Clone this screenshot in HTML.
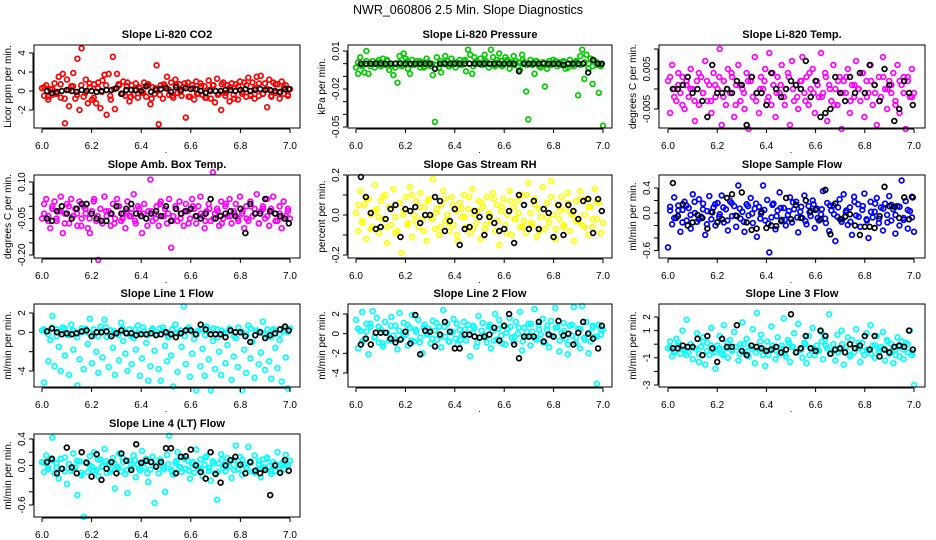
<!DOCTYPE html>
<html><head><meta charset="utf-8"><style>
html,body{margin:0;padding:0;background:#fff;}
svg{display:block;font-family:"Liberation Sans",Arial,sans-serif;}
</style></head><body>
<svg id="chart" width="936" height="540" viewBox="0 0 936 540" xmlns="http://www.w3.org/2000/svg">
<rect width="936" height="540" fill="#fff"/>
<text x="468" y="14" text-anchor="middle" font-size="12.5">NWR_060806  2.5 Min. Slope Diagnostics</text>
</svg>
<script>
const blackT=[6.02,6.04,6.06,6.08,6.10,6.12,6.14,6.16,6.18,6.20,6.22,6.24,6.26,6.28,6.30,6.32,6.34,6.36,6.38,6.40,6.42,6.44,6.46,6.48,6.50,6.52,6.54,6.56,6.58,6.60,6.62,6.64,6.66,6.68,6.70,6.72,6.74,6.76,6.78,6.80,6.82,6.84,6.86,6.88,6.90,6.92,6.94,6.96,6.98,6.995];
const xTicks=[6.0,6.2,6.4,6.6,6.8,7.0];
const xTickLabels=["6.0","6.2","6.4","6.6","6.8","7.0"];
const nPts=120;
const nBand=60;
const co2=[0.3,-0.5,0.6,-0.9,0.2,-0.4,0.8,-0.2,1.5,-0.7,1.8,-3.4,1.2,-1.6,0.5,1.9,-0.8,3.4,-2.0,4.5,-0.6,1.2,-1.3,0.4,-0.9,0.7,-1.3,0.9,-1.8,1.1,1.7,-2.5,1.8,-0.9,3.6,-1.9,1.8,0.6,-0.3,1.0,-0.5,0.9,-1.1,0.6,-0.4,0.8,-0.7,0.3,-0.2,0.9,-0.6,0.7,-1.4,0.4,-0.3,2.7,-3.5,0.6,-0.8,0.5,1.5,-0.4,0.9,-0.7,1.2,-0.2,0.7,-0.5,0.4,-2.8,0.9,-0.6,0.6,-0.9,1.0,-0.3,0.8,-0.4,0.5,-0.7,1.1,-0.8,0.6,-1.2,1.3,-0.3,-2.0,0.9,-0.5,0.6,-1.1,0.8,-0.4,0.7,-0.9,1.0,-0.3,0.9,-0.6,1.4,-0.4,0.9,-0.8,1.5,-0.5,1.6,-0.3,0.8,-1.7,1.2,-0.5,0.9,-0.2,0.7,-0.8,1.0,-0.3,0.6,-0.4,0.2];
const co2Band=[0.4,-0.6,0.2,-0.3,0.7,-0.8,0.1,0.5,-0.4,0.6,-0.2,0.8,-0.7,0.3,-0.1,0.6,-0.5,0.2,0.7,-0.3,0.5,-0.6,0.1,0.4,-0.2,0.6,-0.8,0.3,-0.4,0.7,0.2,-0.5,0.6,-0.1,0.8,-0.6,0.3,-0.3,0.5,-0.7,0.1,0.6,-0.4,0.7,-0.2,0.4,-0.8,0.5,-0.1,0.6,-0.5,0.3,0.8,-0.3,0.2,-0.6,0.7,-0.2,0.4,-0.5];
const co2Black=[0,-0.2,-0.1,0,0.1,0,-0.1,0.1,0,0,-0.1,0,0.1,0.1,0.3,-0.3,0.1,0.1,0.1,0,0.5,-0.1,0.1,0.2,0.3,-0.1,0.4,0.1,0.3,0.2,0.2,0,-0.2,0,0,0,0.1,0.1,0,0.1,0.2,0,0.1,0.2,0.1,0.1,0,-0.1,0.2,0.2];
const pres=[-3,-8,5,-2,-7,10,-8,0,2,-3,1,3,-2,4,-1,2,-5,0,-9,-3,-15,6,-2,8,4,-4,-8,3,-1,2,0,-3,1,-2,4,-1,-2,-9,-46,5,-3,-7,0,6,2,-2,4,1,-3,0,3,-1,2,-6,11,7,-8,5,2,0,4,-1,7,1,-3,11,5,-2,3,8,2,-1,5,3,-4,1,6,2,-2,-5,7,1,-22,-44,3,-1,-8,2,0,-3,1,-18,-4,2,-1,3,0,-2,1,-1,2,-4,0,3,-1,-2,1,-25,6,11,-12,7,-4,4,-16,2,-1,-23,-2,-49];
const presBand=[1,-1,2,-2,0,1,-1,3,-2,0,1,-1,2,-1,0,2,-3,1,0,-1,2,1,-2,0,1,-1,3,0,-2,1,-1,2,0,-1,1,-2,2,0,-1,1,3,-1,0,2,-2,1,-1,0,2,-1,1,-3,0,2,-1,1,0,-2,1,-1];
const presBlack=[0,0,0,0,0,0,0,0,0,0,0,0,0,0,0,-4,0,0,0,0,0,0,0,0,0,0,0,0,0,0,0,0,-6,0,0,0,0,0,0,0,0,-1,0,0,0,0,-7,3,0,0];
const temp=[2,-6,6,0,-3,4,-1,3,-5,1,-2,5,0,-8,2,-4,3,-1,7,-3,1,-6,4,-2,0,10,-9,2,-4,5,-1,3,-7,1,6,-3,0,-5,4,-10,2,-2,8,-1,-6,3,0,5,-3,9,-4,1,-7,3,-1,6,-2,0,4,-9,7,-3,1,-5,2,8,-1,3,-4,0,5,-6,2,-2,9,-1,4,-8,1,-3,6,0,-4,3,-10,2,-1,5,-6,1,-2,7,0,-3,4,-7,2,-1,6,-4,1,-9,3,-2,8,0,-5,2,-1,4,-3,6,-6,1,3,-10,2,-2,5,-1];
const tempBand=[3,-2,1,-4,2,0,-3,4,-1,2,-3,1,3,-2,0,4,-4,1,-1,2,3,-3,0,2,-2,4,-1,1,-4,3,0,-2,2,-3,4,-1,1,-2,3,0,-4,2,-1,3,-3,1,0,4,-2,2,-1,-3,3,0,1,-4,2,-1,3,-2];
const tempBlack=[0,0,1,3,-1,0,-3,-7,6,-1,-1,0,-1,2,1,-9,3,-1,-1,-4,4,0,-2,0,2,1,0,7,-2,2,-7,-6,-5,3,-1,-3,3,-1,4,-1,6,1,-3,5,1,-8,-5,2,-1,-4];
const amb=[-5,1,3,-4,-9,0,2,-6,-2,4,-11,-3,1,-7,3,-4,-1,-8,2,-5,0,-3,-9,-11,-2,3,-6,-22,-1,-7,4,-4,-2,-8,1,-5,3,0,-6,-3,-9,2,-4,-1,5,-7,0,-3,-11,1,-5,-2,11,-6,-3,0,-8,2,-4,-1,-7,3,-17,-4,0,-6,2,-3,-8,1,-2,-5,3,-1,-7,0,4,-4,-9,-2,1,-6,14,-3,-1,-8,2,-5,0,-4,3,-7,-2,1,-5,4,-3,-9,0,-6,2,-4,-1,5,-7,-2,0,-5,3,-8,-1,4,-3,-6,0,-9,2,-4,-2,-5];
const ambBand=[-3,-6,-1,-5,-2,-7,0,-4,-3,-8,-1,-5,2,-4,-6,-2,-3,-7,0,-5,-2,-4,-6,-1,-3,-8,-2,-5,1,-4,-3,-6,-1,-5,-2,-7,0,-4,-3,-6,-1,-5,-2,-7,1,-4,-3,-6,-2,-5,0,-3,-7,-1,-4,-2,-6,-3,-5,-1];
const ambBlack=[-5,-6,-2,0,-3,-5,-1,1,1,-3,-5,-6,-6,-3,0,-3,-1,1,-3,-4,-5,-3,-2,-4,0,-6,-1,-3,-2,-1,-4,-5,-3,3,-5,-4,-3,-2,-4,-1,-11,1,-3,-3,3,-2,-3,-4,-5,-7];
const rh=[1,-8,12,-3,5,-12,8,0,-6,15,3,-9,7,-2,10,-14,4,-5,13,-1,-8,6,-19,2,9,-4,14,-11,0,7,-6,11,-2,4,-13,8,-1,18,-7,3,-10,5,12,-3,0,-8,9,-5,2,-13,6,-1,10,-6,3,-9,13,0,-4,7,-12,4,-7,9,1,-3,11,-8,5,-15,2,8,-5,0,12,-10,4,-2,7,-6,10,-3,-9,16,1,-5,8,-11,3,-1,14,-7,6,-4,17,0,-12,5,-2,9,-6,3,11,-8,1,-13,7,-3,12,-5,0,8,-10,4,-6,13,-2,6,-9,-4];
const rhBand=[5,-4,8,-7,2,-1,9,-6,3,-9,6,0,-5,10,-3,4,-8,7,-2,1,-6,8,-4,5,-10,3,-1,9,-7,2,6,-5,0,8,-3,4,-9,7,-2,1,-6,10,-4,5,-8,3,-1,9,-7,2,-5,6,0,-3,8,-6,4,-2,7,-9];
const rhBlack=[19,9,1,-7,-6,-2,3,5,-11,3,2,4,-4,0,0,9,7,-8,-3,3,-15,-7,-6,2,-1,-10,-1,-4,-8,-7,2,-14,10,5,-7,7,-7,3,1,-11,5,-10,5,2,-2,7,8,-9,8,2];
const samp=[-55,4,-18,25,-8,12,-30,5,18,-12,8,-25,30,0,-14,22,-6,15,-35,3,27,-10,9,-20,16,-2,28,-15,6,-28,19,-5,11,-22,44,-9,2,-30,14,-4,24,-16,7,-38,10,-1,44,-12,21,-63,-7,15,-26,4,33,-11,8,-20,-3,25,-15,6,18,-31,2,-8,28,-18,11,-5,20,-24,7,-12,-2,35,-9,16,-29,4,12,-45,-6,22,-14,30,1,-19,9,-35,26,-4,14,-22,5,31,-10,-40,18,-7,2,24,-16,9,-28,15,-3,27,-12,6,-33,11,-20,52,-8,19,-25,3,26,-30];
const sampBand=[10,-8,4,-15,12,-3,18,-10,6,-18,2,14,-6,9,-12,16,-4,7,-14,11,-1,15,-9,5,-17,13,-5,8,-11,3,17,-7,10,-13,1,14,-8,6,-16,12,-2,9,-10,4,-14,18,-6,11,-12,2,15,-9,7,-15,13,-3,10,-11,5,-7];
const sampBlack=[48,-5,14,-20,-15,-3,-8,-25,1,-15,-10,24,30,-5,33,-15,-27,-25,2,-24,-20,-21,-13,24,-10,13,-8,20,3,5,-10,37,-34,15,-10,-6,-2,-20,-35,-22,-22,-24,-5,42,11,10,-8,25,-10,25];
const line1=[2,-52,1,-30,-8,17,-35,3,-15,-40,5,-24,-2,-44,8,-18,0,-55,-28,4,-38,1,-12,14,-32,-3,-20,-42,6,-26,13,-5,-36,2,-16,-44,-1,-29,10,-9,-22,-40,3,-33,-6,-18,7,-45,-27,1,-11,-50,-35,4,-19,-2,-38,-50,5,-14,-30,-4,-24,-56,8,-41,-1,-15,27,-33,3,-46,-22,-7,-60,2,-35,-17,-45,6,-28,-60,-9,-38,3,-20,-44,-1,-32,-13,4,-49,-25,-6,-36,1,-60,-18,-42,7,-27,-10,-47,2,-33,-21,11,-39,-4,-30,-48,3,-16,-37,-8,-51,1,-26,-58,4];
const line1Band=[3,-2,5,-4,1,4,-3,2,-5,0,4,-1,3,-4,2,5,-2,1,-3,4,0,-4,3,-1,5,-3,2,-2,4,1,-5,3,-1,2,-4,5,0,-2,3,-3,1,4,-5,2,-1,3,-4,5,0,-2,4,-3,1,-1,3,-5,2,-2,4,0];
const line1Black=[1,4,0,-2,-1,-2,-1,1,2,-4,0,0,1,-4,-1,2,-1,-1,-3,-2,-2,-1,-3,-2,0,-2,-5,-1,2,2,-2,8,3,-2,-2,-2,-5,2,0,0,-4,-10,-3,0,-6,-3,-1,3,6,2];
const line2=[14,-15,3,22,-6,10,-21,7,23,-3,16,-9,4,-13,12,1,-7,17,-2,8,-16,21,-5,11,-1,-12,6,19,-8,2,14,-4,-20,9,-1,5,-10,13,3,-6,7,-14,24,-3,10,-8,1,15,-5,-11,4,-2,12,-7,9,-23,1,6,-13,18,-4,11,-1,-9,7,-15,3,20,-6,14,-2,8,-11,5,16,-4,-8,12,0,22,-17,6,-3,10,-12,2,25,-6,9,-1,15,-9,4,-14,13,-3,26,7,-18,1,11,-5,-21,8,-2,27,-10,5,-15,28,-4,12,-20,-8,6,-3,-51,9,-1,4];
const line2Band=[5,-8,2,10,-4,7,-10,1,8,-6,3,-2,9,-7,4,-9,6,0,-5,11,-3,7,-8,2,10,-6,4,-1,8,-9,3,-4,9,-7,5,-10,1,7,-3,6,-8,2,10,-5,4,-9,8,-2,6,-7,3,-11,9,-4,5,-6,1,8,-3,4];
const line2Black=[-11,-5,-11,1,1,1,-5,-9,-6,2,-10,19,-21,3,2,-13,-1,12,2,-15,-15,-1,-1,-3,-4,-3,-1,6,-7,8,20,-11,-25,-3,-3,-3,12,-8,-1,-3,13,-2,0,-11,1,12,0,-5,-15,8];
const line3=[-3,2,-9,-5,4,-1,-7,10,-4,18,-6,0,-11,-3,8,-13,-2,5,-15,1,-8,12,-4,-18,-1,6,-7,14,-3,-10,3,-5,9,-2,-12,0,16,-6,4,-9,-1,11,-14,23,-4,7,-8,-16,2,-5,13,-3,-11,5,-7,-1,19,-9,3,-13,-2,8,-6,15,-4,-10,1,-14,6,-3,12,-8,-1,-5,9,-11,4,-3,22,-7,0,-12,7,-4,10,-15,-2,5,-9,3,-6,11,-3,-13,1,-8,8,-4,14,-1,-10,6,-5,-2,9,-12,3,-7,0,-14,-4,5,-9,2,-11,1,-6,10,-8,-30];
const line3Band=[-2,-6,1,-4,-8,0,-3,-7,2,-5,-1,-6,-3,-8,1,-4,-2,-7,0,-5,-3,-6,2,-4,-8,-1,-5,-3,-7,1,-2,-6,-4,0,-8,-3,-5,2,-1,-7,-4,-6,0,-2,-8,-3,1,-5,-4,-7,-1,-6,-3,2,-5,-8,-2,-4,0,-6];
const line3Black=[-3,-3,-1,-2,-2,4,-8,6,-3,-13,4,-2,-2,14,-5,-8,-1,-2,-3,-5,-4,-2,-6,-4,22,-6,-3,6,-3,-5,10,6,-7,-4,-3,-6,0,-3,-1,6,-4,6,-9,-4,-6,-2,-1,-2,10,-4];
const line4=[5,-10,15,-3,8,42,-12,3,-20,10,-5,12,-28,2,-8,18,-3,-45,6,-15,-78,4,-10,14,-2,20,-7,-16,9,-1,25,-11,3,-6,11,-35,-2,18,-9,5,-13,-42,7,-4,15,-18,1,-8,22,-3,10,-25,-6,13,-57,0,-12,8,-3,-40,16,45,-7,-14,4,20,-2,-10,12,-5,7,-20,2,-11,24,-3,9,-16,1,14,-8,-23,6,-12,-52,3,17,-4,-9,11,-2,-19,8,30,-6,13,-14,1,-3,28,6,-10,15,-7,2,-18,9,-4,12,-1,-13,5,-8,20,-11,3,-6,16,-2,7];
const line4Band=[4,-6,8,-3,10,-9,2,-5,7,-11,5,0,-8,9,-2,6,-10,3,-4,11,-7,1,8,-5,4,-12,6,-1,9,-6,2,-9,7,-3,10,-8,5,0,-6,12,-4,3,-10,8,-2,6,-7,1,9,-5,4,-11,7,-3,10,-9,2,-6,5,0];
const line4Black=[5,10,-12,-5,27,-3,-12,20,4,-17,17,-22,-5,5,-12,18,7,-7,32,4,7,5,-2,5,26,26,-12,13,14,24,0,-10,-20,20,-13,-26,0,8,13,1,-12,5,-8,-12,-7,-45,0,-11,8,-8];

const cols=[{bl:34,br:300,x0:42,x1:290},{bl:348,br:612,x0:356,x1:603},{bl:659,br:925,x0:668,x1:914}];
const rows=[{bt:45,bb:128},{bt:175,bb:258},{bt:304,bb:387},{bt:434,bb:517}];
const panels=[
{key:"co2",c:0,r:0,title:"Slope Li-820 CO2",ylab:"Licor ppm per min.",color:"#ff0000",vals:co2,band:co2Band,blk:co2Black,scale:1,ya:[4,53],yb:[-2,110],ticks:[-2,0,2,4],labs:["-2","0","2","4"]},
{key:"pressure",c:1,r:0,title:"Slope Li-820 Pressure",ylab:"kPa per min.",color:"#00cd00",vals:pres,band:presBand,blk:presBlack,scale:0.001,ya:[0.01,51],yb:[-0.05,127],ticks:[0.01,0,-0.01,-0.02,-0.03,-0.04,-0.05],labs:["0.01","","","-0.02","","","-0.05"]},
{key:"temp",c:2,r:0,title:"Slope Li-820 Temp.",ylab:"degrees C per min.",color:"#ff00ff",vals:temp,band:tempBand,blk:tempBlack,scale:0.001,ya:[0.005,69],yb:[-0.005,109],ticks:[0.01,0.005,0,-0.005],labs:["","0.005","","-0.005"]},
{key:"amb-box-temp",c:0,r:1,title:"Slope Amb. Box Temp.",ylab:"degrees C per min.",color:"#ff00ff",vals:amb,band:ambBand,blk:ambBlack,scale:0.01,ya:[0.10,182],yb:[-0.20,255],ticks:[0.10,0.05,0,-0.05,-0.10,-0.15,-0.20],labs:["0.10","","","-0.05","","","-0.20"]},
{key:"gas-rh",c:1,r:1,title:"Slope Gas Stream RH",ylab:"percent per min.",color:"#ffff00",vals:rh,band:rhBand,blk:rhBlack,scale:0.01,ya:[0.2,175],yb:[-0.2,255],ticks:[0.2,0.1,0,-0.1,-0.2],labs:["0.2","","0.0","","-0.2"]},
{key:"sample-flow",c:2,r:1,title:"Slope Sample Flow",ylab:"ml/min per min.",color:"#0000ff",vals:samp,band:sampBand,blk:sampBlack,scale:0.01,ya:[0.4,188],yb:[0,213],ticks:[0.4,0.2,0,-0.2,-0.4,-0.6],labs:["0.4","","0.0","","","-0.6"]},
{key:"line1-flow",c:0,r:2,title:"Slope Line 1 Flow",ylab:"ml/min per min.",color:"#00ffff",vals:line1,band:line1Band,blk:line1Black,scale:0.1,ya:[2,313],yb:[-4,371],ticks:[2,0,-2,-4],labs:["2","0","","-4"]},
{key:"line2-flow",c:1,r:2,title:"Slope Line 2 Flow",ylab:"ml/min per min.",color:"#00ffff",vals:line2,band:line2Band,blk:line2Black,scale:0.1,ya:[2,314],yb:[-4,373],ticks:[2,0,-2,-4],labs:["2","0","-2","-4"]},
{key:"line3-flow",c:2,r:2,title:"Slope Line 3 Flow",ylab:"ml/min per min.",color:"#00ffff",vals:line3,band:line3Band,blk:line3Black,scale:0.1,ya:[2,317],yb:[-3,385],ticks:[2,1,0,-1,-2,-3],labs:["2","1","","-1","","-3"]},
{key:"line4-flow",c:0,r:3,title:"Slope Line 4 (LT) Flow",ylab:"ml/min per min.",color:"#00ffff",vals:line4,band:line4Band,blk:line4Black,scale:0.01,ya:[0.4,439],yb:[-0.6,505],ticks:[0.4,0.2,0,-0.2,-0.4,-0.6],labs:["0.4","","0.0","","","-0.6"]}
];
const NS="http://www.w3.org/2000/svg";
const svg=document.getElementById("chart");
function mk(tag,attrs,parent){const e=document.createElementNS(NS,tag);for(const k in attrs)e.setAttribute(k,attrs[k]);parent.appendChild(e);return e;}
panels.forEach(p=>{
  const C=cols[p.c],R=rows[p.r];
  const g=mk("g",{},svg);
  
  
  const xs=t=>C.x0+(t-6)*(C.x1-C.x0);
  const ys=v=>p.ya[1]+(v-p.ya[0])*(p.yb[1]-p.ya[1])/(p.yb[0]-p.ya[0]);
  const pg=mk("g",{fill:"none",stroke:p.color,"stroke-width":"1.7"},g);
  
  
  p.band.forEach((v,i)=>{
    const t=6+(i+0.5)/nBand;
    const c=mk("circle",{cx:xs(t).toFixed(1),cy:ys(v*p.scale).toFixed(1),r:"2.4"},pg);
    
    
  });
  p.vals.forEach((v,i)=>{
    const t=6+i/(nPts-1);
    const c=mk("circle",{cx:xs(t).toFixed(1),cy:ys(v*p.scale).toFixed(1),r:"2.4"},pg);
    
    
  });
  const bg=mk("g",{fill:"none",stroke:"#000","stroke-width":"1.7"},g);
  
  
  p.blk.forEach((v,i)=>{
    const c=mk("circle",{cx:xs(blackT[i]).toFixed(1),cy:ys(v*p.scale).toFixed(1),r:"2.4"},bg);
    
    
  });
  const box=mk("rect",{x:C.bl,y:R.bt,width:C.br-C.bl,height:R.bb-R.bt,fill:"none",stroke:"#000","stroke-width":"1"},g);
  
  
  const ti=mk("text",{x:(C.bl+C.br)/2,y:R.bt-7,"text-anchor":"middle","font-size":"11","font-weight":"bold"},g);
  ti.textContent=p.title;
  
  
  const xa=mk("g",{stroke:"#000","stroke-width":"1"},g);
  
  
  mk("line",{x1:xs(6),x2:xs(7),y1:R.bb+1,y2:R.bb+1},xa);
  xTicks.forEach((t,i)=>{
    mk("line",{x1:xs(t),x2:xs(t),y1:R.bb+1,y2:R.bb+5},xa);
    const tl=mk("text",{x:xs(t),y:R.bb+21,"text-anchor":"middle","font-size":"10",stroke:"none"},xa);
    tl.textContent=xTickLabels[i];
    
    
  });
  const dot=mk("text",{x:(C.x0+C.x1)/2,y:R.bb+25,"text-anchor":"middle","font-size":"9",stroke:"none"},g);
  dot.textContent=".";
  
  
  const ya=mk("g",{stroke:"#000","stroke-width":"1"},g);
  
  
  const yt=p.ticks.map(v=>ys(v));
  mk("line",{x1:C.bl-1,x2:C.bl-1,y1:Math.min(...yt),y2:Math.max(...yt)},ya);
  p.ticks.forEach((v,i)=>{
    const y=ys(v);
    mk("line",{x1:C.bl-5,x2:C.bl-1,y1:y,y2:y},ya);
    if(p.labs[i]){
      const tl=mk("text",{x:C.bl-9,y:y,"text-anchor":"middle","font-size":"10",stroke:"none",transform:`rotate(-90 ${C.bl-9} ${y})`},ya);
      tl.textContent=p.labs[i];
      
      
    }
  });
  const yl=(R.bt+R.bb)/2, xl=C.bl-23;
  const yt2=mk("text",{x:xl,y:yl,"text-anchor":"middle","font-size":"10",transform:`rotate(-90 ${xl} ${yl})`},g);
  yt2.textContent=p.ylab;
  
  
});
</script>
</body></html>
